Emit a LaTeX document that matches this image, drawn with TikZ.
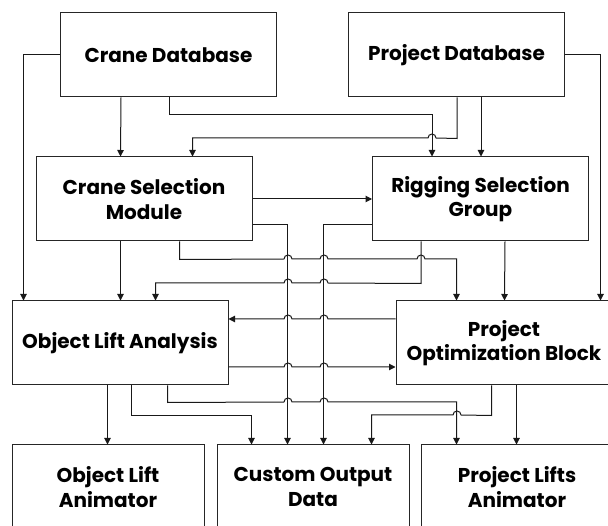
\documentclass[tikz,border=0pt]{standalone}
\usepackage{fontspec}
\setmainfont{Poppins}
\usetikzlibrary{arrows.meta}

% hop over a vertical line at x=#1 on a horizontal run at y=#2
\newcommand\hopR[2]{-- (#1-4,#2) arc[start angle=180,end angle=0,radius=4pt]}
\newcommand\hopL[2]{-- (#1+4,#2) arc[start angle=0,end angle=180,radius=4pt]}

\tikzset{
  block/.style={draw=black!85, line width=1pt, fill=white, align=center,
    font=\bfseries\fontsize{20}{24.5}\selectfont, inner sep=0pt,
    minimum width=216pt, minimum height=84pt},
  lowblock/.style={block, minimum width=192pt},
  link/.style={draw=black!90, line width=1pt,
    -{Triangle[length=6.5pt,width=6.5pt]}},
}

\begin{document}
\begin{tikzpicture}[x=1pt,y=-1pt]
\useasboundingbox (0,0) rectangle (608,526);
\clip (0,0) rectangle (608,526);

% modules
\node[block] (cdb) at (168.5,55) {Crane Database};
\node[block] (pdb) at (456.5,55) {Project Database};
\node[block] (csm) at (144,199) {Crane Selection\\Module};
\node[block] (rsg) at (480.5,199) {Rigging Selection\\Group};
\node[block] (ola) at (120,343) {Object Lift Analysis};
\node[block] (pob) at (504,343) {Project\\Optimization Block};
\node[lowblock] (olan) at (108,487) {Object Lift\\Animator};
\node[lowblock] (cod) at (313,487) {Custom Output\\Data};
\node[lowblock] (pla) at (517,487) {Project Lifts\\Animator};

% from the databases
\draw[link] (cdb.west) -| ([xshift=12pt]ola.north west);
\draw[link] ([xshift=61pt]cdb.south west) -- ([xshift=85pt]csm.north west);
\draw[link] ([xshift=109pt]cdb.south west) -- ++(0,17) -| ([xshift=60pt]rsg.north west);
\draw[link] ([xshift=109pt]pdb.south west) -- ++(0,41) \hopL{432}{138}
  -| ([xshift=157pt]csm.north west);
\draw[link] ([xshift=133pt]pdb.south west) -- ([xshift=109pt]rsg.north west);
\draw[link] (pdb.east) -| ([xshift=205pt]pob.north west);

% selection modules
\draw[link] (csm.east) -- (rsg.west);
\draw[link] ([yshift=17pt]csm.south east) -| ([xshift=71pt]cod.north west);
\draw[link] ([yshift=17pt]rsg.south west) -| ([xshift=107pt]cod.north west);
\draw[link] ([xshift=85pt]csm.south west) -- ([xshift=109pt]ola.north west);
\draw[link] ([xshift=144pt]csm.south west) -- ++(0,18)
  \hopR{288}{259} \hopR{324}{259} \hopR{421}{259}
  -| ([xshift=61pt]pob.north west);
\draw[link] ([xshift=49pt]rsg.south west) -- ++(0,42)
  \hopL{324}{283} \hopL{288}{283}
  -| ([xshift=144pt]ola.north west);
\draw[link] ([xshift=133pt]rsg.south west) -- ([xshift=109pt]pob.north west);

% analysis and optimisation
\draw[link] ([yshift=24pt]pob.west) \hopL{324}{319} \hopL{288}{319} -- ([yshift=24pt]ola.east);
\draw[link] ([yshift=-24pt]ola.east) \hopR{288}{367} \hopR{324}{367} -- ([yshift=-24pt]pob.west);

% outputs
\draw[link] ([xshift=96pt]ola.south west) -- ([xshift=96pt]olan.north west);
\draw[link] ([xshift=120pt]ola.south west) -- ++(0,30) -| ([xshift=35pt]cod.north west);
\draw[link] ([xshift=156pt]ola.south west) -- ++(0,17)
  \hopR{288}{402} \hopR{324}{402}
  -| ([xshift=36pt]pla.north west);
\draw[link] ([xshift=96pt]pob.south west) -- ++(0,30) \hopL{457}{415}
  -| ([xshift=155pt]cod.north west);
\draw[link] ([xshift=121pt]pob.south west) -- ([xshift=96pt]pla.north west);
\end{tikzpicture}
\end{document}
